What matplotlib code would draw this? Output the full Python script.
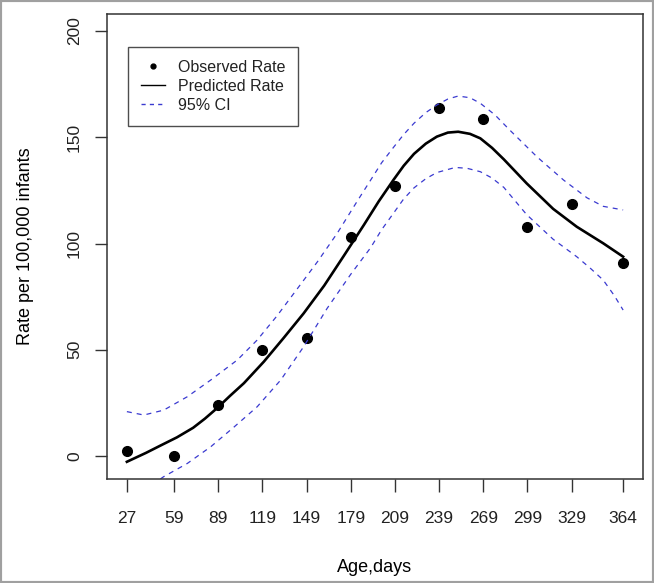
import matplotlib
matplotlib.use("Agg")
import matplotlib.pyplot as plt
from matplotlib.lines import Line2D
from matplotlib.patches import Rectangle

# observed rates
days = [27, 59, 89, 119, 149, 179, 209, 239, 269, 299, 329, 364]
observed = [2.5, 0, 24, 50, 55.5, 103, 127, 164, 158.5, 108, 118.5, 91]

# predicted curve
pred_days = [27, 40, 50, 61, 72, 80, 88.5, 97, 106.5, 120, 133.5, 147, 161, 174.5, 188, 198, 208, 215, 222,
             230, 237.5, 245, 252, 260, 267, 275, 283, 298.5, 316.5, 332.5, 350.5, 364]
pred_rate = [-2.7, 1.5, 5.0, 8.8, 13.3, 17.6, 22.7, 28.3, 34.3, 44.4, 55.6, 67.1, 80.2, 94.4, 108.8, 119.8, 129.9, 136.6, 142.2,
             147.0, 150.3, 152.2, 152.6, 151.6, 149.5, 145.0, 139.6, 128.3, 116.3, 107.9, 100.1, 93.8]

# 95% confidence band
upper_days = [27, 38.5, 52, 68, 84, 102, 115.5, 129, 142.5, 156.5, 170, 183.5, 192.5, 200, 208, 215, 222,
              230, 237.5, 245, 252, 260, 267, 277, 287, 305.5, 323.5, 339.5, 350.5, 364]
upper_rate = [20.9, 19.3, 21.6, 27.9, 35.8, 45.2, 54.6, 66.0, 78.5, 91.5, 105.0, 120.0, 129.8, 138.0, 145.2, 151.3, 156.6,
              161.6, 165.2, 168.0, 169.4, 168.6, 166.0, 160.5, 153.4, 140.8, 129.9, 121.5, 117.5, 115.8]
lower_days = [27, 40, 52, 68, 84, 100, 115.5, 131.5, 147, 163, 179, 192.5, 200, 208, 215, 222, 230, 237.5,
              250, 258, 267, 275, 283, 298.5, 316.5, 332.5, 342, 350.5, 358, 364]
lower_rate = [-21, -15.5, -9.7, -3.5, 4.4, 13.8, 23.2, 35.8, 51.4, 69.5, 85.5, 98.0, 106.5, 114.2, 121.0, 126.2, 130.5, 133.4,
              135.8, 135.4, 133.8, 130.8, 126.4, 113.6, 102.0, 93.8, 88.2, 82.8, 75.5, 68.7]

xticks = [27, 59, 89, 119, 149, 179, 209, 239, 269, 299, 329, 364]
yticks = [0, 50, 100, 150, 200]

plt.rcParams['font.family'] = ['Liberation Sans', 'DejaVu Sans']
plt.rcParams['text.color'] = '#222222'

fig = plt.figure(figsize=(6.54, 5.83), dpi=100)
ax = fig.add_axes([107/654, 1-479/583, (643-107)/654, (479-14)/583])

blue = '#3a3ad0'
ax.plot(days, observed, 'o', color='black', markersize=7)
ax.plot(pred_days, pred_rate, '-', color='black', lw=1.9)
ax.plot(upper_days, upper_rate, '--', color=blue, lw=0.9, dashes=(4, 4))
ax.plot(lower_days, lower_rate, '--', color=blue, lw=0.9, dashes=(4, 4))

ax.set_xlim(13.5, 377.5)
ax.set_ylim(-10.8, 208)

ax.set_xticks(xticks)
ax.set_xticklabels([str(t) for t in xticks], family=['Liberation Sans Narrow', 'Liberation Sans'],
                   fontsize=12.5, color='#222222')
ax.set_yticks(yticks)
ax.set_yticklabels([str(t) for t in yticks], rotation=90, va='center', fontsize=12.5, color='#222222')
ax.tick_params(direction='out', length=9, width=1, color='#333333', pad=14)
ax.tick_params(axis='y', pad=9)

for s in ax.spines.values():
    s.set_color('#333333')
    s.set_linewidth(1.1)

ax.set_xlabel('Age,days', fontsize=13, labelpad=24)
ax.set_ylabel('Rate per 100,000 infants', fontsize=13, labelpad=24)

handles = [Line2D([], [], ls='none', marker='o', color='black', markersize=3.5),
           Line2D([], [], color='black', lw=1),
           Line2D([], [], color=blue, lw=1, ls='--', dashes=(3, 3))]
labels = ['Observed Rate', 'Predicted Rate', '95% CI']
leg = ax.legend(handles, labels, loc='upper left', bbox_to_anchor=(128/654, 1-47/583),
                bbox_transform=fig.transFigure, borderaxespad=0, fancybox=False, edgecolor='#222222',
                fontsize=11.5, handlelength=1.5, handletextpad=0.8, labelspacing=0.25, borderpad=0.8)
leg.get_frame().set_linewidth(1.0)

# grey border round the picture
fig.patches.append(Rectangle((0, 0), 1, 1, transform=fig.transFigure, fill=False,
                             edgecolor='#a0a0a0', linewidth=3))

fig.savefig('out.png', dpi=100)
